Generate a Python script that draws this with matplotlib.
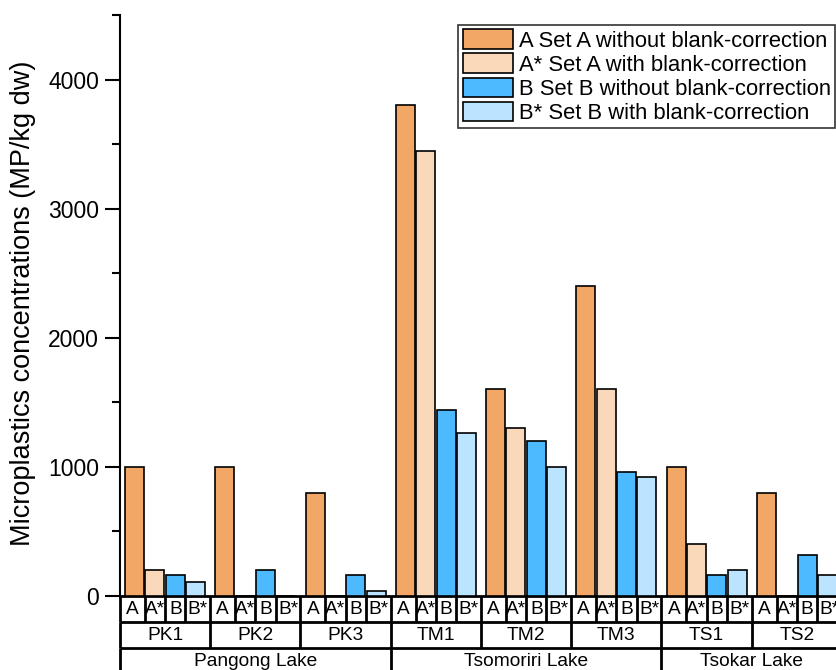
import matplotlib
matplotlib.use("Agg")
import matplotlib.pyplot as plt
from matplotlib.patches import Patch
from matplotlib.transforms import blended_transform_factory
import numpy as np

plt.rcParams['font.family'] = ['Liberation Sans', 'DejaVu Sans']

# sampling sites and lakes
sites = ["PK1", "PK2", "PK3", "TM1", "TM2", "TM3", "TS1", "TS2"]
lakes = ["Pangong Lake", "Tsomoriri Lake", "Tsokar Lake"]
lake_sizes = [3, 3, 2]
sets = ["A", "A*", "B", "B*"]
set_names = ["Set A without blank-correction", "Set A with blank-correction",
             "Set B without blank-correction", "Set B with blank-correction"]

# microplastic concentrations (MP/kg dw)
set_a = [1000, 1000, 800, 3800, 1600, 2400, 1000, 800]
set_a_corr = [200, 0, 0, 3450, 1300, 1600, 400, 0]
set_b = [160, 200, 160, 1440, 1200, 960, 160, 320]
set_b_corr = [110, 0, 40, 1260, 1000, 920, 200, 160]

colors = ["#F3A766", "#FAD8BA", "#4DB9FF", "#BAE4FF"]
series = [set_a, set_a_corr, set_b, set_b_corr]

W, H = 837, 670
fig = plt.figure(figsize=(W / 100, H / 100), dpi=100)
ax = fig.add_axes([120 / W, (H - 596) / H, 722 / W, 581 / H])

n = len(sites)
x = np.arange(n) + 0.5
step = 0.225
bw = 0.21
for j, (vals, c) in enumerate(zip(series, colors)):
    ax.bar(x + (j - 1.5) * step, vals, width=bw, color=c,
           edgecolor="black", linewidth=1.2, zorder=3)

ax.set_xlim(0, n)
ax.set_ylim(0, 4500)
ax.set_yticks([0, 1000, 2000, 3000, 4000])
ax.set_yticks([500, 1500, 2500, 3500, 4500], minor=True)
ax.tick_params(axis="y", which="major", length=11, width=1.5, labelsize=16.5, pad=4)
ax.tick_params(axis="y", which="minor", length=6, width=1.5)
ax.set_xticks([])
for s in ["top", "right"]:
    ax.spines[s].set_visible(False)
ax.spines["left"].set_linewidth(1.5)
ax.spines["bottom"].set_linewidth(2)
ax.set_ylabel("Microplastics concentrations (MP/kg dw)", fontsize=19.5)
ax.yaxis.set_label_coords(-84 / 722, 0.503)

# category table beneath the axis
tr = blended_transform_factory(ax.transData, ax.transAxes)
r1 = -26 / 581
r2 = -52 / 581
r3 = -90 / 581
lw = 2
kw = dict(transform=tr, color="black", linewidth=lw, clip_on=False, solid_capstyle="butt")
for yy in [r1, r2]:
    ax.plot([0, n], [yy, yy], **kw)
# sub-cells
for i in range(n):
    edges = [i, i + 0.5 - step, i + 0.5, i + 0.5 + step]
    for e in edges:
        ax.plot([e, e], [0, r1], **kw)
    bounds = [i, i + 0.5 - step, i + 0.5, i + 0.5 + step, i + 1]
    for k, lab in enumerate(sets):
        ax.text((bounds[k] + bounds[k + 1]) / 2, r1 / 2, lab, transform=tr,
                ha="center", va="center", fontsize=13.8, clip_on=False)
    ax.plot([i, i], [r1, r2], **kw)
    ax.text(i + 0.5, (r1 + r2) / 2, sites[i], transform=tr, ha="center",
            va="center", fontsize=13.8, clip_on=False)
start = 0
for lake, size in zip(lakes, lake_sizes):
    ax.plot([start, start], [r2, r3], **kw)
    ax.text(start + size / 2, r2 - 13 / 581, lake, transform=tr, ha="center",
            va="center", fontsize=13.8, clip_on=False)
    start += size

handles = [Patch(facecolor=c, edgecolor="black", linewidth=1.2) for c in colors]
labels = [f"{s} {nm}" for s, nm in zip(sets, set_names)]
leg = ax.legend(handles, labels, loc="upper right",
                bbox_to_anchor=(835 / W, 1 - 25 / H), bbox_transform=fig.transFigure,
                fontsize=15.8, frameon=True, fancybox=False, framealpha=1,
                handlelength=2.3, handleheight=1.0, handletextpad=0.25,
                labelspacing=0.08, borderpad=0.2, borderaxespad=0)
leg.get_frame().set_edgecolor("#333333")
leg.get_frame().set_linewidth(1.2)

fig.savefig("out.png", dpi=100)
